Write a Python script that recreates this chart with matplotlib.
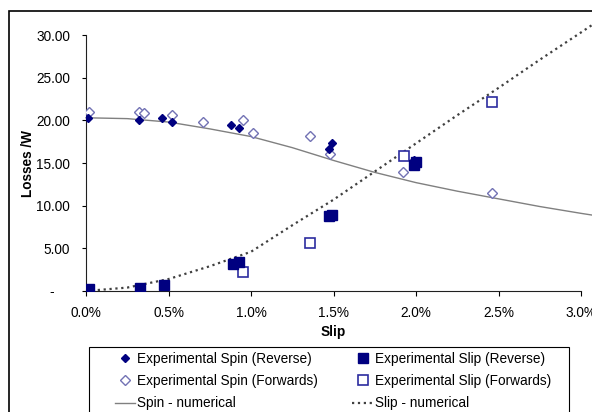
import matplotlib.pyplot as plt
from matplotlib.patches import Rectangle
from matplotlib.ticker import PercentFormatter, FuncFormatter

plt.rcParams['font.family'] = ['Liberation Sans', 'DejaVu Sans']
plt.rcParams['font.size'] = 9.8

# slip in percent, losses in W
spin_rev_x = [0.01, 0.32, 0.46, 0.52, 0.88, 0.93, 1.47, 1.49, 1.99, 2.00]
spin_rev_y = [20.3, 20.0, 20.3, 19.8, 19.5, 19.1, 16.6, 17.4, 15.4, 15.1]

spin_fwd_x = [0.02, 0.32, 0.35, 0.52, 0.71, 0.95, 1.01, 1.36, 1.48, 1.92, 2.46]
spin_fwd_y = [21.0, 21.0, 20.9, 20.6, 19.8, 20.0, 18.5, 18.2, 16.1, 13.9, 11.5]

slip_rev_x = [0.02, 0.33, 0.47, 0.89, 0.93, 1.47, 1.49, 1.99, 2.00]
slip_rev_y = [0.2, 0.35, 0.7, 3.2, 3.4, 8.8, 8.9, 14.8, 15.1]

slip_fwd_x = [0.95, 1.36, 1.93, 2.46]
slip_fwd_y = [2.2, 5.6, 15.8, 22.2]

num_x = [0.0, 0.25, 0.5, 0.75, 1.0, 1.25, 1.5, 1.75, 2.0, 2.25, 2.5, 2.75, 3.0, 3.1]
spin_num = [20.3, 20.2, 19.8, 19.0, 18.1, 16.8, 15.3, 13.9, 12.7, 11.7, 10.8, 9.9, 9.1, 8.8]
slip_num = [0.0, 0.4, 1.4, 2.9, 4.6, 7.7, 10.7, 14.0, 17.3, 20.6, 23.8, 27.1, 30.3, 31.6]

fig = plt.figure(figsize=(5.92, 4.12), dpi=100)
ax = fig.add_axes([86 / 592, 1 - 291 / 412, 495 / 592, 256 / 412])

navy = '#000080'
h1, = ax.plot(spin_rev_x, spin_rev_y, 'D', color=navy, ms=4.2, ls='none', zorder=4,
              label='Experimental Spin (Reverse)')
h2, = ax.plot(spin_fwd_x, spin_fwd_y, 'D', mfc='white', mec='#7272b4', mew=1.0, ms=5.2,
              ls='none', zorder=3, label='Experimental Spin (Forwards)')
h3, = ax.plot(num_x, spin_num, '-', color='#808080', lw=1.0, clip_on=False,
              label='Spin - numerical')
h4, = ax.plot(slip_rev_x, slip_rev_y, 's', color=navy, ms=7, ls='none', zorder=4,
              label='Experimental Slip (Reverse)')
h5, = ax.plot(slip_fwd_x, slip_fwd_y, 's', mfc='white', mec='#2c2ca0', mew=1.2, ms=6.5,
              ls='none', zorder=3, label='Experimental Slip (Forwards)')
h6, = ax.plot(num_x, slip_num, ':', color='#404040', lw=1.6, clip_on=False,
              label='Slip - numerical')

ax.set_xlim(0, 3.0)
ax.set_ylim(0, 30)
ax.set_xticks([0, 0.5, 1.0, 1.5, 2.0, 2.5, 3.0])
ax.set_yticks([0, 5, 10, 15, 20, 25, 30])
ax.xaxis.set_major_formatter(PercentFormatter(decimals=1))
ax.yaxis.set_major_formatter(FuncFormatter(lambda v, p: '-    ' if v == 0 else f'{v:.2f}'))
ax.tick_params(axis='y', direction='out', length=3, pad=8.5)
ax.tick_params(axis='x', direction='out', length=3.5, pad=7)
for s in ['top', 'right']:
    ax.spines[s].set_visible(False)
for s in ['left', 'bottom']:
    ax.spines[s].set_color('#202020')

ax.set_xlabel('Slip', fontweight='bold', labelpad=4)
ax.set_ylabel('Losses /W', fontweight='bold', labelpad=1)

# chart border and legend frame
fig.patches.append(Rectangle((9 / 592, -0.2), 1.2, 1.2 - 11 / 412, transform=fig.transFigure,
                             fill=False, ec='black', lw=1.2))
fig.patches.append(Rectangle((89 / 592, -0.2), 480 / 592, 0.2 + 1 - 347 / 412,
                             transform=fig.transFigure, fill=False, ec='black', lw=0.8))

fig.legend(handles=[h1, h2, h3, h4, h5, h6], ncol=2, frameon=False,
           loc='upper left', bbox_to_anchor=(115 / 592, 1 - 352 / 412),
           borderpad=0, borderaxespad=0, handlelength=1.5, handletextpad=0.15,
           columnspacing=2.5, labelspacing=0.6)

fig.savefig('out.png', dpi=100)
